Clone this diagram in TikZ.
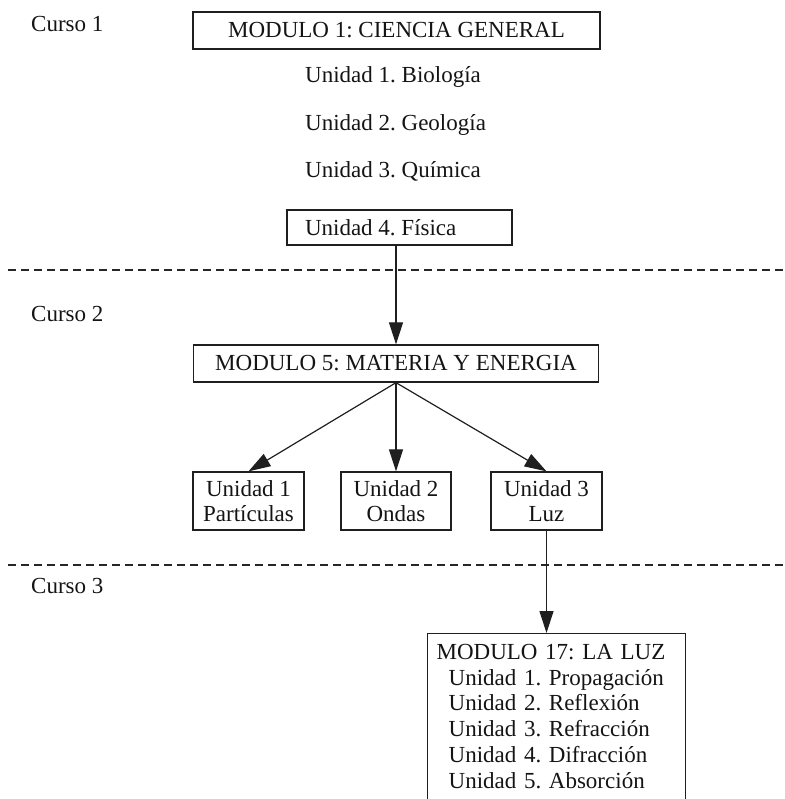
\documentclass[tikz,border=0pt]{standalone}
\usepackage{fontspec}
\setmainfont{Liberation Serif}
\usetikzlibrary{arrows.meta}
\frenchspacing
\begin{document}
\begin{tikzpicture}[x=1pt,y=-1pt,
  every node/.style={font=\fontsize{23}{25}\selectfont, text=black!92},
  frame/.style={draw=black!88, line width=1.3pt, inner sep=0pt},
  label/.style={anchor=base west, inner sep=0pt},
  link/.style={draw=black!88, line width=1.2pt, -{Triangle[length=22pt,width=14pt]}},
  divider/.style={draw=black!85, line width=1.2pt, dash pattern=on 8pt off 5pt}]
\clip (0,0) rectangle (784,799);

% Curso 1
\node[label] (c1) at (31,32) {Curso 1};
\node[frame, minimum width=407pt, minimum height=37pt] (m1) at (396.5,30.5) {MODULO 1: CIENCIA GENERAL};
\node[label] (bio) at (305,83) {Unidad 1. Biología};
\node[label] (geo) at (305,131) {Unidad 2. Geología};
\node[label] (qui) at (305,178) {Unidad 3. Química};
\node[frame, minimum height=35pt, inner xsep=18pt] (fis) at (399.5,227.5) {\makebox[189pt][l]{Unidad 4. Física}};

% first divider
\coordinate (d1l) at (8,270);
\coordinate (d1r) at (784,270);
\draw[divider] (d1l) -- (d1r);

% Curso 2
\node[label] (c2) at (31,321) {Curso 2};
\node[frame, minimum width=405pt, minimum height=37pt] (m5) at (396,363.5) {MODULO 5: MATERIA Y ENERGIA};
\node[frame, minimum width=111pt, minimum height=58pt, align=center] (p1) at (248.5,501) {Unidad 1\\Partículas};
\node[frame, minimum width=110pt, minimum height=58pt, align=center] (p2) at (396,501) {Unidad 2\\Ondas};
\node[frame, minimum width=111pt, minimum height=58pt, align=center] (p3) at (546.5,501) {Unidad 3\\Luz};

\draw[link] (fis.south -| m5.north) -- (m5.north);
\draw[link] (m5.south) -- (p1.north);
\draw[link] (m5.south) -- (p2.north);
\draw[link] (m5.south) -- (p3.north);

% second divider
\coordinate (d2l) at (8,565);
\coordinate (d2r) at (784,565);
\draw[divider] (d2l) -- (d2r);

% Curso 3
\node[label] (c3) at (31,593) {Curso 3};
\node[frame, anchor=north west, text width=240pt, inner xsep=9pt, inner ysep=10.5pt,
      align=left, text depth=170pt, font=\fontsize{23}{25.8}\selectfont] (m17) at (427,633)
  {MODULO 17: LA LUZ\\
   \hspace*{12pt}Unidad 1. Propagación\\
   \hspace*{12pt}Unidad 2. Reflexión\\
   \hspace*{12pt}Unidad 3. Refracción\\
   \hspace*{12pt}Unidad 4. Difracción\\
   \hspace*{12pt}Unidad 5. Absorción};

\draw[link] (p3.south) -- (p3.south |- m17.north);
\end{tikzpicture}
\end{document}
